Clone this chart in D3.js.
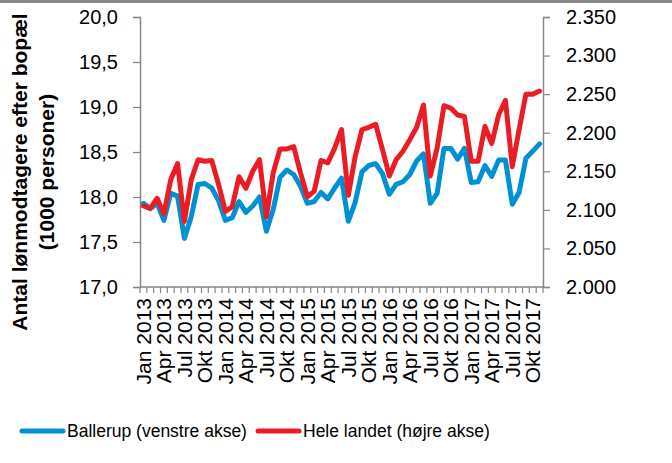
<!DOCTYPE html>
<html>
<head>
<meta charset="utf-8">
<script src="https://cdn.jsdelivr.net/npm/d3@7"></script>
<style>
  body { margin: 0; background: #fff; }
  text { font-family: "Liberation Sans", Arial, sans-serif; fill: #000; }
</style>
</head>
<body>
<div id="chart"></div>
<script>
// months Jan 2013 - Nov 2017
var monthNames = ["Jan", "Feb", "Mar", "Apr", "Maj", "Jun", "Jul", "Aug", "Sep", "Okt", "Nov", "Dec"];
var years = [2013, 2014, 2015, 2016, 2017];
var months = [];
years.forEach(function(y) {
  monthNames.forEach(function(m) { months.push(m + " " + y); });
});
months = months.slice(0, 59);

// Ballerup, 1000 personer (left axis)
var ballerup = [17.93, 17.87, 17.93, 17.74, 18.04, 18.01, 17.54, 17.78, 18.14, 18.15, 18.10, 17.96,
  17.74, 17.77, 17.95, 17.83, 17.90, 18.00, 17.62, 17.86, 18.22, 18.30, 18.25, 18.12,
  17.93, 17.95, 18.05, 17.98, 18.10, 18.21, 17.73, 17.94, 18.28, 18.35, 18.37, 18.26,
  18.03, 18.14, 18.17, 18.25, 18.40, 18.48, 17.93, 18.04, 18.54, 18.54, 18.42, 18.54,
  18.16, 18.17, 18.35, 18.23, 18.41, 18.41, 17.92, 18.05, 18.43, 18.51, 18.59];

// Hele landet, 1000 personer (right axis)
var heleLandet = [2105, 2102, 2115, 2095, 2139, 2160, 2085, 2139, 2165, 2163, 2164, 2133,
  2098, 2104, 2143, 2128, 2150, 2165, 2091, 2148, 2179, 2179, 2182, 2148,
  2117, 2124, 2164, 2161, 2180, 2204, 2119, 2169, 2204, 2207, 2211, 2178,
  2144, 2165, 2176, 2191, 2207, 2236, 2144, 2180, 2235, 2232, 2223, 2221,
  2163, 2163, 2208, 2186, 2223, 2242, 2156, 2204, 2250, 2250, 2254];

var leftTicks = [17.0, 17.5, 18.0, 18.5, 19.0, 19.5, 20.0];
var rightTicks = [2000, 2050, 2100, 2150, 2200, 2250, 2300, 2350];

var svgWidth = 672, svgHeight = 463;
var margin = { top: 17, right: 129, bottom: 176, left: 140 };
var width = svgWidth - margin.left - margin.right;
var height = svgHeight - margin.top - margin.bottom;

var blue = "#0091d4", red = "#ec1c24", axisColor = "#868686";

var da = d3.formatLocale({ decimal: ",", thousands: ".", grouping: [3], currency: ["", " kr."] });

var svg = d3.select("#chart").append("svg")
  .attr("width", svgWidth)
  .attr("height", svgHeight);

// top border strip
svg.append("rect").attr("x", 0).attr("y", 0).attr("width", svgWidth).attr("height", 3).attr("fill", "#8a8a8a");

var chartGroup = svg.append("g")
  .attr("transform", `translate(${margin.left}, ${margin.top})`);

var x = d3.scaleBand().domain(months).range([0, width]);
var yLeft = d3.scaleLinear().domain([17, 20]).range([height, 0]);
var yRight = d3.scaleLinear().domain([2000, 2350]).range([height, 0]);

// left axis
var leftAxis = chartGroup.append("g")
  .call(d3.axisLeft(yLeft).tickValues(leftTicks).tickSize(7).tickPadding(15).tickFormat(da.format(".1f")));
leftAxis.selectAll("text").style("font-size", "20px");

// right axis
var rightAxis = chartGroup.append("g")
  .attr("transform", `translate(${width}, 0)`)
  .call(d3.axisRight(yRight).tickValues(rightTicks).tickSize(7).tickPadding(16).tickFormat(da.format(",.0f")));
rightAxis.selectAll("text").style("font-size", "20px");

// bottom axis: ticks between every month, labels every third month
var bottomAxis = chartGroup.append("g")
  .attr("transform", `translate(0, ${height})`);
bottomAxis.append("line")
  .attr("x1", 0).attr("x2", width)
  .attr("stroke", axisColor).attr("stroke-width", 1.5);
bottomAxis.selectAll(".mtick")
  .data(months.concat(["end"]))
  .enter().append("line")
  .attr("x1", (d, i) => i < months.length ? x(d) : width)
  .attr("x2", (d, i) => i < months.length ? x(d) : width)
  .attr("y1", 0).attr("y2", 6)
  .attr("stroke", axisColor).attr("stroke-width", 1.2);
bottomAxis.selectAll(".mlabel")
  .data(months.filter((d, i) => i % 3 === 0))
  .enter().append("text")
  .attr("transform", d => `translate(${x(d) + x.bandwidth() / 2 + 7.5}, 11) rotate(-90)`)
  .attr("text-anchor", "end")
  .style("font-size", "21px")
  .text(d => d);

[leftAxis, rightAxis].forEach(function(a) {
  a.select(".domain").attr("stroke", axisColor).attr("stroke-width", 1.5);
  a.selectAll(".tick line").attr("stroke", axisColor).attr("stroke-width", 1.2);
  a.selectAll("text").attr("fill", "#000");
});

// lines
var xc = d => x(d) + x.bandwidth() / 2;
var lineLeft = d3.line().x((d, i) => xc(months[i])).y(d => yLeft(d));
var lineRight = d3.line().x((d, i) => xc(months[i])).y(d => yRight(d));

chartGroup.append("path")
  .datum(ballerup)
  .attr("d", lineLeft)
  .attr("fill", "none").attr("stroke", blue).attr("stroke-width", 5)
  .attr("stroke-linejoin", "round").attr("stroke-linecap", "round");

chartGroup.append("path")
  .datum(heleLandet)
  .attr("d", lineRight)
  .attr("fill", "none").attr("stroke", red).attr("stroke-width", 5)
  .attr("stroke-linejoin", "round").attr("stroke-linecap", "round");

// y axis title
var title = svg.append("text")
  .attr("transform", "translate(27, 172) rotate(-90)")
  .attr("text-anchor", "middle")
  .style("font-size", "21px")
  .style("font-weight", "bold");
title.append("tspan").attr("x", 0).attr("dy", 0).text("Antal lønmodtagere efter bopæl");
title.append("tspan").attr("x", 0).attr("dy", 27).text("(1000 personer)");

// legend
var legend = svg.append("g").attr("transform", "translate(0, 431)");
var legendItems = [
  { label: "Ballerup (venstre akse)", color: blue, x: 22 },
  { label: "Hele landet (højre akse)", color: red, x: 258 }
];
legendItems.forEach(function(item) {
  legend.append("line")
    .attr("x1", item.x).attr("x2", item.x + 41)
    .attr("stroke", item.color).attr("stroke-width", 5).attr("stroke-linecap", "round");
  legend.append("text")
    .attr("x", item.x + 45).attr("y", 0).attr("dy", "0.35em")
    .style("font-size", "17.5px")
    .text(item.label);
});
</script>
</body>
</html>
